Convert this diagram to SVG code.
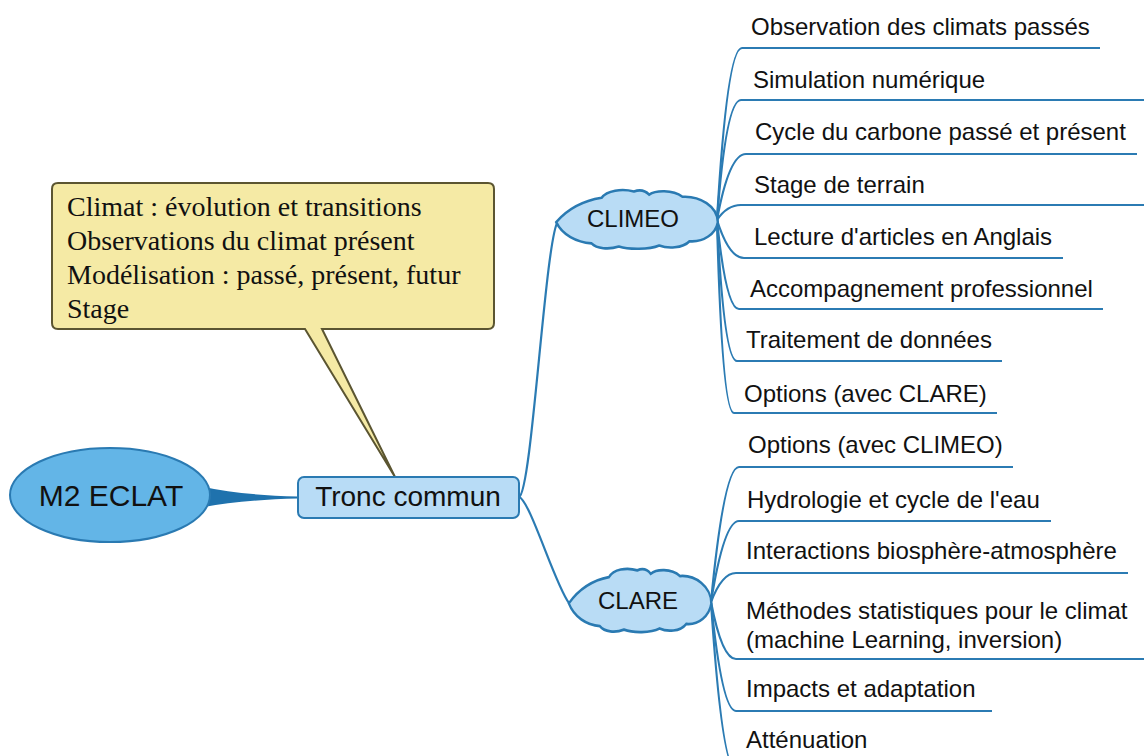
<svg xmlns="http://www.w3.org/2000/svg" width="1144" height="756" viewBox="0 0 1144 756">
<style>
.lbl{font-family:"Liberation Sans",Arial,sans-serif;font-size:24px;fill:#111}
.br{fill:none;stroke:#2b7bb3;stroke-width:2.2}
.cloud{fill:#b9dcf5;stroke:#2a7ab2;stroke-width:2.4}
.note{font-family:"Liberation Serif","Times New Roman",serif;font-size:28px;fill:#111}
</style>
<defs>
<path id="cloudShape" d="M -80,3 C -70,-8 -55,-17 -35,-20 C -30,-27 -15,-29 -3,-26 C 3,-28 8,-27 12,-23 C 18,-27 35,-28 45,-21 C 62,-22 80,-12 80,3 C 78,14 66,22 52,21 C 45,28 30,28 22,25 C 12,29 -8,29 -18,26 C -28,29 -40,28 -45,23 C -60,22 -74,15 -80,3 Z"/>
</defs>
<rect width="1144" height="756" fill="#fff"/>

<g id="connectors">
  <path d="M204,487 Q240,495 298,496.5 L298,498.5 Q240,500 204,507 Z" fill="#1f72ad"/>
  <path class="br" d="M519,497 C532,492 545,240 558,221"/>
  <path class="br" d="M519,497 C530,500 555,585 569,603"/>
  <!-- CLIMEO branches -->
  <path class="br" d="M717,220 Q727,48 742,48 L1100,48"/>
  <path class="br" d="M717,220 Q726,100 741,100 L1144,100"/>
  <path class="br" d="M717,220 Q729,154 746,154 L1137,154"/>
  <path class="br" d="M717,220 Q727,205 741,205 L1144,205"/>
  <path class="br" d="M717,220 Q729,258 744,258 L1063,258"/>
  <path class="br" d="M717,220 Q726,309 739,309 L1103,309"/>
  <path class="br" d="M717,220 Q724,361 737,361 L1002,361"/>
  <path class="br" d="M717,220 Q722,413 734,413 L997,413"/>
  <!-- CLARE branches -->
  <path class="br" d="M711,602 Q724,467 739,467 L1013,467"/>
  <path class="br" d="M711,602 Q724,521 739,521 L1051,521"/>
  <path class="br" d="M711,602 Q722,573 736,573 L1128,573"/>
  <path class="br" d="M711,602 Q722,659 736,659 L1144,659"/>
  <path class="br" d="M711,602 Q722,711 736,711 L992,711"/>
  <path class="br" d="M711,602 Q722,770 736,770 L900,770"/>
</g>

<g id="callout">
  <path d="M58,183 H488 Q494,183 494,189 V323 Q494,329 488,329 H322 L395,477 L305,329 H58 Q52,329 52,323 V189 Q52,183 58,183 Z" fill="#f5eaa5" stroke="#5b5531" stroke-width="2"/>
  <text class="note" x="67" y="216">Climat : évolution et transitions</text>
  <text class="note" x="67" y="250">Observations du climat présent</text>
  <text class="note" x="67" y="284">Modélisation : passé, présent, futur</text>
  <text class="note" x="67" y="318">Stage</text>
</g>

<g id="m2eclat">
  <ellipse cx="110" cy="495" rx="100" ry="47" fill="#63b5e7" stroke="#2a7ab2" stroke-width="2"/>
  <text x="111" y="506" text-anchor="middle" style="font-family:'Liberation Sans',Arial,sans-serif;font-size:30px;fill:#111">M2 ECLAT</text>
</g>

<g id="tronc">
  <rect x="298" y="477" width="221" height="41" rx="6" fill="#b8dcf6" stroke="#2a7ab2" stroke-width="2"/>
  <text x="408" y="506" text-anchor="middle" style="font-family:'Liberation Sans',Arial,sans-serif;font-size:28px;fill:#111">Tronc commun</text>
</g>

<g id="climeo">
  <use href="#cloudShape" class="cloud" transform="translate(637,219) scale(1.01,1.06)" style="vector-effect:non-scaling-stroke"/>
  <text class="lbl" x="633" y="227" text-anchor="middle">CLIMEO</text>
</g>
<g id="clare">
  <use href="#cloudShape" class="cloud" transform="translate(640,600) scale(0.89,1.14)" style="vector-effect:non-scaling-stroke"/>
  <text class="lbl" x="638" y="609" text-anchor="middle">CLARE</text>
</g>

<g id="climeo-topics">
  <g id="t1"><text class="lbl" x="751" y="35">Observation des climats passés</text></g>
  <g id="t2"><text class="lbl" x="753" y="88">Simulation numérique</text></g>
  <g id="t3"><text class="lbl" x="755" y="140">Cycle du carbone passé et présent</text></g>
  <g id="t4"><text class="lbl" x="754" y="193">Stage de terrain</text></g>
  <g id="t5"><text class="lbl" x="754" y="245">Lecture d'articles en Anglais</text></g>
  <g id="t6"><text class="lbl" x="750" y="297">Accompagnement professionnel</text></g>
  <g id="t7"><text class="lbl" x="746" y="348">Traitement de données</text></g>
  <g id="t8"><text class="lbl" x="744" y="402">Options (avec CLARE)</text></g>
</g>
<g id="clare-topics">
  <g id="c1"><text class="lbl" x="748" y="453">Options (avec CLIMEO)</text></g>
  <g id="c2"><text class="lbl" x="747" y="508">Hydrologie et cycle de l'eau</text></g>
  <g id="c3"><text class="lbl" x="746" y="559">Interactions biosphère-atmosphère</text></g>
  <g id="c4"><text class="lbl" x="746" y="619">Méthodes statistiques pour le climat</text><text class="lbl" x="746" y="648">(machine Learning, inversion)</text></g>
  <g id="c5"><text class="lbl" x="746" y="697">Impacts et adaptation</text></g>
  <g id="c6"><text class="lbl" x="746" y="748">Atténuation</text></g>
</g>
</svg>
